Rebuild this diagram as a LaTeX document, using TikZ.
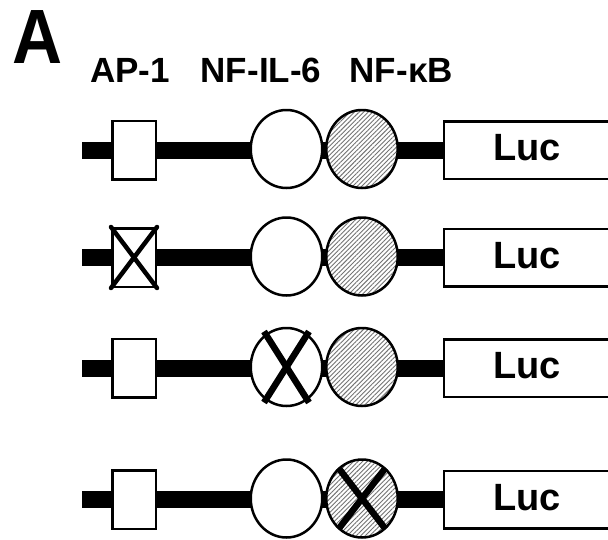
\documentclass[tikz,border=0pt]{standalone}
\usepackage{fontspec}
\setmainfont{Liberation Sans}
\newfontfamily\bigfont[FakeStretch=0.9]{Liberation Sans}
\usetikzlibrary{shapes.geometric,patterns.meta,calc}
\begin{document}
\begin{tikzpicture}[x=1pt,y=-1pt,
  bar/.style={line width=17pt},
  apbox/.style={draw,fill=white,line width=2.5pt,rectangle,minimum width=43.5pt,minimum height=58.5pt,inner sep=0pt},
  wcirc/.style={draw,fill=white,line width=2.5pt,ellipse,minimum width=71.5pt,minimum height=78pt,inner sep=0pt},
  hcirc/.style={draw,line width=2.5pt,ellipse,minimum width=71.5pt,minimum height=78pt,inner sep=0pt,
    preaction={fill=white},
    pattern={Lines[angle=45,distance=3.2pt,line width=0.9pt]},pattern color=black!55},
  lucbox/.style={draw,fill=white,line width=2.5pt,rectangle,minimum width=166pt,minimum height=57.5pt,inner sep=0pt,
    font=\fontsize{38}{38}\selectfont\bfseries,text height=27pt,text depth=6pt},
  lbl/.style={font=\fontsize{35}{35}\selectfont\bfseries,inner sep=0pt,anchor=base west},
  boxx/.style={line width=4.5pt,line cap=round},
  bigx/.style={line width=6.5pt},
]
\useasboundingbox (0,0) rectangle (608,539);
% labels
\node[inner sep=0pt,anchor=base west,font=\bigfont\fontsize{77}{77}\selectfont\bfseries] (A) at (12,63) {A};
\node[lbl] (lap) at (90,82) {AP-1};
\node[lbl] (lnf) at (200.5,82) {NF-IL-6};
\node[lbl] (lkb) at (349.5,82) {NF-κB};
% rows
\foreach \r/\y in {1/150,2/257.5,3/368,4/499.5}{
  \coordinate (s\r) at (82,\y);
  \node[lucbox] (luc\r) at (527,\y) {Luc};
  \draw[bar] (s\r) -- (luc\r.west);
  \node[apbox] (ap\r) at (134,\y) {};
  \node[wcirc] (nf\r) at (286.5,\y-1) {};
  \node[hcirc] (kb\r) at (362,\y-1) {};
}
% mutation in AP-1 (row 2)
\draw[boxx] (ap2.north west) -- (ap2.south east);
\draw[boxx] (ap2.north east) -- (ap2.south west);
% mutation in NF-IL-6 (row 3)
\draw[bigx] ($(nf3.center)+(-22.5,-35.5)$) coordinate (x3a) -- ($(nf3.center)+(22.5,35.5)$) coordinate (x3b);
\draw[bigx] ($(nf3.center)+(22.5,-35.5)$) coordinate (x3c) -- ($(nf3.center)+(-22.5,35.5)$) coordinate (x3d);
% mutation in NF-kB (row 4)
\draw[bigx] ($(kb4.center)+(-23.5,-30.5)$) coordinate (x4a) -- ($(kb4.center)+(23.5,30.5)$) coordinate (x4b);
\draw[bigx] ($(kb4.center)+(23.5,-30.5)$) coordinate (x4c) -- ($(kb4.center)+(-23.5,30.5)$) coordinate (x4d);
\end{tikzpicture}
\end{document}
